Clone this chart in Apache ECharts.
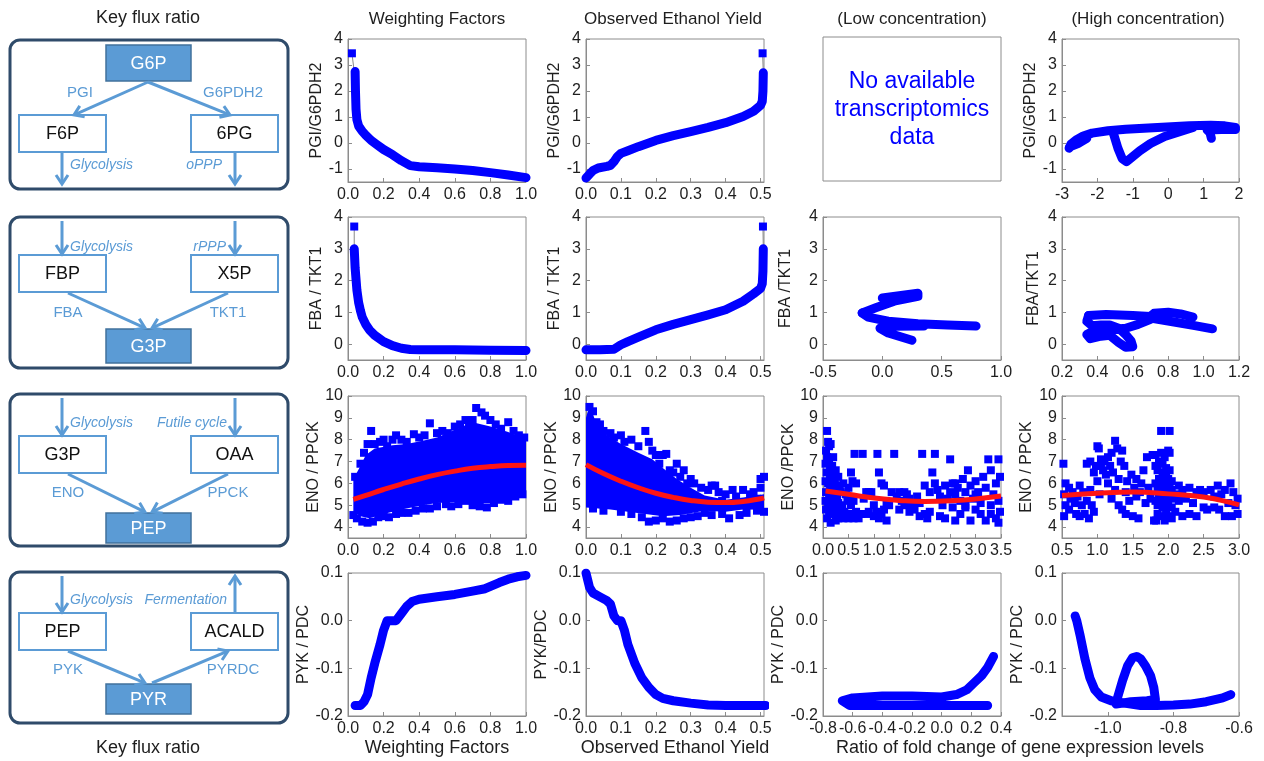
<!DOCTYPE html>
<html>
<head>
<meta charset="utf-8">
<script src="https://cdn.jsdelivr.net/npm/echarts@6/dist/echarts.min.js"></script>
<style>
html,body{margin:0;padding:0;background:#fff;}
#chart{width:1264px;height:761px;}
</style>
</head>
<body>
<div id="chart"></div>
<script>
// ---------- titles ----------
const columnTitles = ['Weighting Factors', 'Observed Ethanol Yield', '(Low concentration)', '(High concentration)'];
const sideTitle = 'Key flux ratio';
const bottomTitles = ['Weighting Factors', 'Observed Ethanol Yield', 'Ratio of fold change of gene expression levels'];
const noDataText = 'No available\ntranscriptomics\ndata';

// ---------- tick values ----------
const ticksWF = [0, 0.2, 0.4, 0.6, 0.8, 1.0];
const ticksEY = [0, 0.1, 0.2, 0.3, 0.4, 0.5];
const ticksPgiY = [-1, 0, 1, 2, 3, 4];
const ticksFbaY = [0, 1, 2, 3, 4];
const ticksEnoY = [4, 5, 6, 7, 8, 9, 10];
const ticksPykY = [-0.2, -0.1, 0, 0.1];
const ticksHcPgiX = [-3, -2, -1, 0, 1, 2];
const ticksLcFbaX = [-0.5, 0, 0.5, 1.0];
const ticksHcFbaX = [0.2, 0.4, 0.6, 0.8, 1.0, 1.2];
const ticksLcEnoX = [0, 0.5, 1.0, 1.5, 2.0, 2.5, 3.0, 3.5];
const ticksHcEnoX = [0.5, 1.0, 1.5, 2.0, 2.5, 3.0];
const ticksLcPykX = [-0.8, -0.6, -0.4, -0.2, 0, 0.2, 0.4];
const ticksHcPykX = [-1.0, -0.8, -0.6];

// ---------- PGI / G6PDH2 ----------
const wfPgiTop = [[0.022, 3.45]];
const wfPgi = [[0.04,2.75],[0.042,2.0],[0.045,1.3],[0.05,0.9],[0.06,0.65],[0.08,0.45],[0.1,0.3],[0.13,0.1],[0.16,-0.05],[0.2,-0.25],[0.25,-0.45],[0.3,-0.68],[0.35,-0.87],[0.4,-0.91],[0.5,-0.95],[0.6,-1.0],[0.7,-1.06],[0.8,-1.14],[0.9,-1.23],[1.0,-1.33]];
const eyPgiTop = [[0.506, 3.45]];
const eyPgi = [[0,-1.35],[0.01,-1.2],[0.02,-1.06],[0.035,-0.96],[0.06,-0.9],[0.07,-0.86],[0.08,-0.72],[0.09,-0.52],[0.1,-0.4],[0.12,-0.3],[0.15,-0.14],[0.2,0.1],[0.25,0.28],[0.3,0.44],[0.35,0.6],[0.4,0.78],[0.45,1.02],[0.48,1.22],[0.5,1.45],[0.505,1.6],[0.507,2.0],[0.508,2.7]];
const hcPgiUpper = [[-2.8,-0.2],[-2.75,-0.05],[-2.6,0.12],[-2.4,0.27],[-2.15,0.38],[-1.7,0.47],[-1.2,0.53],[-0.3,0.6],[0.6,0.66],[1.2,0.68],[1.6,0.66],[1.9,0.6]];
const hcPgiReturn = [[1.9,0.52],[1.5,0.52],[1.1,0.5],[1.18,0.4],[1.22,0.18]];
const hcPgiLoop = [[0.7,0.6],[0.3,0.42],[-0.1,0.25],[-0.5,-0.02],[-0.8,-0.3],[-1.05,-0.58],[-1.18,-0.72],[-1.3,-0.6],[-1.42,-0.2],[-1.55,0.38]];
const hcPgiBlob = [[-2.78,-0.15],[-2.55,-0.02],[-2.3,0.18]];

// ---------- FBA / TKT1 ----------
const wfFbaTop = [[0.035, 3.7]];
const wfFba = [[0.035,3.0],[0.04,2.4],[0.05,1.7],[0.06,1.3],[0.07,1.05],[0.08,0.85],[0.1,0.62],[0.12,0.45],[0.15,0.28],[0.2,0.08],[0.25,-0.05],[0.3,-0.13],[0.35,-0.17],[0.4,-0.18],[0.6,-0.18],[0.8,-0.19],[1.0,-0.2]];
const eyFbaTop = [[0.507, 3.7]];
const eyFba = [[0,-0.18],[0.04,-0.18],[0.08,-0.16],[0.1,-0.02],[0.12,0.08],[0.15,0.22],[0.2,0.45],[0.25,0.62],[0.3,0.77],[0.35,0.92],[0.4,1.08],[0.45,1.35],[0.48,1.58],[0.5,1.75],[0.505,1.9],[0.507,2.3],[0.508,3.0]];
const lcFbaTop = [[0.0,1.45],[0.3,1.6],[0.3,1.5],[0.1,1.35],[-0.05,1.15],[-0.17,0.98]];
const lcFbaLong = [[-0.17,0.98],[-0.12,0.85],[0.05,0.72],[0.3,0.64],[0.55,0.6],[0.79,0.57]];
const lcFbaLow = [[0.35,0.57],[0.1,0.56],[-0.02,0.5],[0.05,0.35],[0.25,0.12]];
const hcFbaLoop = [[0.35,0.9],[0.34,0.72],[0.37,0.58],[0.42,0.6],[0.47,0.6],[0.52,0.5],[0.56,0.3],[0.59,0.1],[0.6,-0.08],[0.56,-0.1],[0.52,0.05],[0.47,0.28],[0.42,0.25],[0.36,0.17],[0.34,0.3],[0.38,0.42],[0.47,0.45],[0.56,0.5],[0.63,0.62],[0.7,0.78]];
const hcFbaTop = [[0.35,0.9],[0.45,0.93],[0.6,0.9],[0.7,0.87],[0.72,0.97],[0.8,1.0],[0.87,0.95],[0.94,0.85]];
const hcFbaTail = [[0.7,0.82],[0.85,0.68],[0.95,0.58],[1.05,0.48]];

// ---------- ENO / PPCK ----------
const wfEnoCore = [[0.03,4.7],[0.07,4.5],[0.12,4.4],[0.2,4.6],[0.3,4.8],[0.42,5.0],[0.5,5.1],[0.61,5.15],[0.7,5.1],[0.8,5.1],[0.9,5.3],[1.0,5.6],
  [1.0,8.0],[0.9,8.35],[0.8,8.6],[0.7,8.8],[0.6,8.45],[0.5,8.1],[0.42,7.95],[0.33,7.8],[0.25,7.75],[0.15,7.6],[0.1,7.3],[0.07,6.8],[0.03,6.2]];
const wfEnoPts = [[0.04,6.3],[0.07,6.9],[0.09,7.4],[0.11,7.8],[0.13,8.4],[0.15,7.8],[0.18,7.9],[0.2,8.0],[0.22,7.7],[0.25,8.0],[0.27,8.2],[0.3,8.0],[0.33,7.9],[0.37,8.25],[0.4,8.1],[0.43,8.2],[0.46,8.75],[0.5,8.3],[0.53,8.4],[0.56,8.3],[0.6,8.6],[0.63,8.7],[0.66,8.9],[0.68,8.8],[0.7,8.9],[0.72,9.45],[0.75,9.25],[0.77,9.1],[0.8,8.9],[0.83,8.7],[0.86,8.5],[0.9,8.8],[0.93,8.4],[0.96,8.2],[0.99,8.1],
  [0.03,4.55],[0.05,4.4],[0.08,4.25],[0.11,4.2],[0.14,4.25],[0.17,4.45],[0.2,4.5],[0.23,4.45],[0.27,4.6],[0.3,4.65],[0.34,4.65],[0.38,4.75],[0.42,4.85],[0.46,4.85],[0.5,4.95],[0.55,5.05],[0.58,4.95],[0.62,5.05],[0.66,5.2],[0.7,5.0],[0.74,4.95],[0.78,4.9],[0.82,5.1],[0.86,5.25],[0.9,5.2],[0.94,5.4],[0.98,5.5]];
const wfEnoFit = [[0.03,5.27],[0.1,5.45],[0.2,5.72],[0.3,5.97],[0.4,6.2],[0.5,6.4],[0.6,6.56],[0.7,6.69],[0.8,6.77],[0.9,6.82],[1.0,6.83]];

const eyEnoCore = [[0,4.9],[0.07,4.8],[0.17,4.6],[0.22,4.5],[0.27,4.55],[0.34,4.75],[0.4,4.7],[0.45,4.8],[0.51,4.8],
  [0.51,5.5],[0.45,5.35],[0.4,5.25],[0.34,5.45],[0.3,5.8],[0.26,6.2],[0.22,6.7],[0.19,7.1],[0.15,7.4],[0.1,7.8],[0.06,8.2],[0.03,8.7],[0.015,9.4],[0.005,9.3],[0,9.0]];
const eyEnoPts = [[0.01,9.5],[0.02,9.3],[0.03,8.8],[0.04,8.7],[0.05,8.4],[0.07,8.3],[0.08,8.1],[0.1,8.2],[0.11,7.9],[0.13,8.0],[0.15,7.7],[0.17,8.4],[0.18,7.9],[0.19,7.5],[0.2,7.3],[0.22,7.3],[0.23,7.35],[0.21,6.9],[0.24,6.6],[0.26,6.9],[0.25,6.5],[0.27,6.3],[0.28,6.6],[0.29,6.0],[0.3,6.2],[0.31,6.0],[0.33,5.8],[0.35,5.7],[0.37,5.9],[0.38,5.6],[0.4,5.5],[0.42,5.7],[0.43,5.4],[0.45,5.7],[0.47,5.5],[0.48,5.6],[0.5,6.2],[0.51,6.3],[0.5,5.8],
  [0.51,4.7],[0.49,4.75],[0.46,4.65],[0.44,4.55],[0.41,4.4],[0.39,4.6],[0.36,4.55],[0.34,4.65],[0.32,4.5],[0.3,4.45],[0.28,4.4],[0.26,4.3],[0.24,4.25],[0.22,4.4],[0.2,4.3],[0.18,4.25],[0.16,4.45],[0.13,4.6],[0.1,4.7],[0.05,4.75],[0.02,4.85],
  [0.33,5.2],[0.36,5.9],[0.39,5.2],[0.44,5.1],[0.47,5.0],[0.49,5.3],[0.27,5.6],[0.29,5.3]];
const eyEnoFit = [[0,6.86],[0.05,6.45],[0.1,6.1],[0.15,5.8],[0.2,5.55],[0.25,5.36],[0.3,5.22],[0.35,5.14],[0.4,5.12],[0.45,5.17],[0.5,5.3],[0.51,5.34]];

const lcEnoCore = [[0.06,4.5],[0.3,4.5],[0.36,5.2],[0.3,6.3],[0.2,6.9],[0.1,7.3],[0.06,7.0]];
const lcEnoPts = [[0.08,8.4],[0.1,7.9],[0.12,7.7],[0.06,7.5],[0.15,7.8],[0.08,7.2],[0.2,7.2],[0.05,6.9],[0.12,7.0],[0.18,6.8],[0.25,6.6],[0.07,6.5],[0.15,6.4],[0.22,6.2],[0.3,6.3],[0.05,6.1],[0.1,6.0],[0.17,5.9],[0.25,5.8],[0.33,5.9],[0.4,6.0],[0.06,5.6],[0.12,5.5],[0.2,5.4],[0.28,5.5],[0.35,5.6],[0.45,5.5],[0.05,5.2],[0.1,5.1],[0.15,5.0],[0.22,5.0],[0.3,5.1],[0.38,5.0],[0.48,5.2],[0.06,4.8],[0.12,4.7],[0.2,4.6],[0.28,4.7],[0.35,4.5],[0.44,4.6],[0.08,4.4],[0.15,4.2],[0.25,4.3],[0.5,4.4],[0.55,4.6],[0.6,4.4],[0.65,4.7],[0.55,5.0],[0.6,5.2],[0.5,5.8],[0.58,6.1],[0.65,6.0],[0.55,6.5],[0.62,7.35],[0.78,7.35],
  [0.8,5.3],[0.85,5.6],[0.9,5.6],[0.95,5.6],[1.0,5.0],[1.05,4.7],[1.0,4.5],[1.1,4.4],[1.15,4.6],[1.07,7.35],[1.1,6.5],[1.15,6.0],[1.2,5.9],[1.25,5.1],[1.3,5.0],[1.2,4.8],[1.35,5.6],[1.4,7.35],[1.45,5.4],[1.5,5.6],[1.55,5.2],[1.6,5.0],[1.65,5.5],[1.7,5.3],[1.75,5.0],[1.8,4.8],[1.85,5.4],[1.9,5.1],[1.95,7.35],[2.0,4.6],[2.05,4.4],[2.1,4.7],[2.15,6.5],[2.2,7.35],[2.2,6.0],[2.25,5.7],[2.3,5.4],[2.3,4.5],[2.35,5.0],[2.4,4.4],[2.4,5.9],[2.45,5.3],[2.5,7.1],[2.5,5.6],[2.55,4.9],[2.55,6.0],[2.6,5.5],[2.6,4.3],[2.65,5.8],[2.7,4.6],[2.7,5.2],[2.75,6.2],[2.8,5.6],[2.8,4.9],[2.85,6.6],[2.9,5.9],[2.9,4.3],[2.95,5.3],[3.0,6.1],[3.0,4.8],[3.05,5.6],[3.1,4.6],[3.1,5.1],[3.15,6.3],[3.2,5.8],[3.2,4.3],[3.25,7.1],[3.3,5.0],[3.3,6.6],[3.35,5.5],[3.4,4.4],[3.4,6.0],[3.45,7.1],[3.45,5.2],[3.45,4.2],[3.48,6.3],[3.48,4.7],
  [1.5,4.8],[1.7,4.7],[1.6,5.6],[2.1,5.6],[2.0,5.9],[1.9,4.5],[2.6,6.0],[3.0,5.5],[2.8,5.0],[3.3,4.6],[0.4,4.4],[0.42,4.7],[0.3,4.4],[0.7,4.4],[0.75,4.6],[1.25,4.3],[0.9,4.7],[0.85,4.6]];
const lcEnoFit = [[0.05,5.65],[0.5,5.5],[1.0,5.33],[1.5,5.22],[2.0,5.17],[2.5,5.2],[3.0,5.29],[3.5,5.42]];

const hcEnoPts = [[0.52,6.9],[0.55,6.0],[0.53,5.5],[0.55,5.0],[0.53,4.5],[0.6,5.8],[0.62,5.3],[0.6,4.8],[0.65,5.6],[0.68,5.1],[0.7,4.6],[0.72,5.4],[0.75,5.9],[0.75,4.5],[0.78,5.0],[0.8,5.6],[0.82,4.6],[0.85,5.2],[0.85,6.9],[0.88,4.4],[0.9,5.7],[0.9,7.0],[0.92,5.0],[0.95,6.5],[0.95,4.7],[0.98,6.8],[1.0,7.7],[1.0,6.1],[1.02,7.6],[1.03,5.5],[1.05,6.8],[1.05,7.1],[1.08,6.6],[1.1,7.0],[1.12,6.4],[1.15,7.2],[1.15,6.0],[1.18,6.8],[1.2,7.4],[1.2,5.3],[1.22,6.5],[1.25,7.95],[1.25,5.7],[1.28,7.6],[1.3,6.2],[1.3,5.0],[1.33,7.0],[1.35,7.5],[1.35,4.8],[1.38,6.8],[1.4,5.6],[1.4,4.6],[1.42,6.1],[1.45,5.2],[1.48,6.4],[1.5,4.5],[1.52,5.8],[1.55,5.4],[1.55,6.2],[1.58,4.4],[1.6,5.6],[1.62,6.0],[1.65,6.6],[1.68,5.1],[1.7,7.2],[1.72,5.8],[1.75,5.3],[1.78,7.3],[1.8,4.3],
  [1.83,4.3],[1.85,4.6],[1.85,5.0],[1.87,5.4],[1.85,5.8],[1.87,6.2],[1.85,6.6],[1.87,7.0],[1.9,7.4],[1.9,8.4],[1.9,4.5],[1.92,4.9],[1.9,5.3],[1.92,5.7],[1.9,6.1],[1.92,6.5],[1.92,6.9],[1.95,7.2],[1.95,4.3],[1.97,4.7],[1.95,5.1],[1.97,5.5],[1.95,5.9],[1.97,6.3],[1.97,6.7],[2.0,7.5],[2.0,4.5],[2.0,5.0],[2.0,5.4],[2.02,5.8],[2.0,6.2],[2.02,6.6],[2.02,8.4],[2.02,7.4],[2.05,4.4],[2.05,4.9],[2.05,5.3],[2.05,5.7],[2.05,6.1],[1.82,5.2],[1.82,6.0],[1.82,6.8],[1.82,7.3],
  [2.1,5.5],[2.1,4.7],[2.15,5.9],[2.15,5.2],[2.2,4.5],[2.2,5.7],[2.25,5.3],[2.3,4.6],[2.3,5.8],[2.35,5.1],[2.4,5.6],[2.4,4.5],[2.45,5.7],[2.5,4.9],[2.5,5.6],[2.55,4.8],[2.6,5.7],[2.65,4.9],[2.65,5.4],[2.7,5.9],[2.72,4.8],[2.75,5.5],[2.8,4.5],[2.8,5.7],[2.85,5.1],[2.88,6.0],[2.9,4.5],[2.92,5.6],[2.95,5.0],[2.98,5.3],[2.98,4.6]];
const hcEnoFit = [[0.5,5.45],[1.0,5.55],[1.5,5.6],[2.0,5.52],[2.5,5.38],[2.75,5.22],[3.0,5.02]];

// ---------- PYK / PDC ----------
const wfPyk = [[0.04,-0.178],[0.07,-0.178],[0.09,-0.17],[0.11,-0.155],[0.13,-0.12],[0.15,-0.09],[0.18,-0.05],[0.2,-0.02],[0.22,0.0],[0.27,0.0],[0.3,0.015],[0.33,0.03],[0.36,0.04],[0.4,0.045],[0.5,0.05],[0.6,0.055],[0.7,0.062],[0.77,0.067],[0.8,0.072],[0.85,0.08],[0.9,0.087],[0.95,0.092],[1.0,0.095]];
const eyPyk = [[0.0,0.1],[0.005,0.085],[0.01,0.07],[0.02,0.058],[0.04,0.05],[0.06,0.042],[0.07,0.035],[0.08,0.01],[0.09,0.0],[0.1,0.0],[0.11,-0.02],[0.12,-0.05],[0.14,-0.09],[0.16,-0.12],[0.18,-0.14],[0.2,-0.155],[0.22,-0.163],[0.25,-0.168],[0.3,-0.173],[0.35,-0.177],[0.4,-0.178],[0.5,-0.178],[0.515,-0.178]];
const lcPyk = [[0.31,-0.178],[0.0,-0.178],[-0.4,-0.178],[-0.62,-0.178],[-0.67,-0.168],[-0.6,-0.162],[-0.4,-0.158],[-0.2,-0.158],[0.0,-0.16],[0.1,-0.155],[0.17,-0.145],[0.22,-0.13],[0.27,-0.115],[0.31,-0.098],[0.35,-0.075]];
const hcPykMain = [[-1.1,0.01],[-1.095,0.0],[-1.085,-0.03],[-1.07,-0.08],[-1.055,-0.12],[-1.04,-0.145],[-1.02,-0.16],[-0.99,-0.168],[-0.95,-0.173],[-0.9,-0.178],[-0.85,-0.178],[-0.8,-0.177],[-0.75,-0.175],[-0.7,-0.17],[-0.65,-0.162],[-0.625,-0.155]];
const hcPykLoop = [[-0.975,-0.175],[-0.97,-0.16],[-0.955,-0.125],[-0.94,-0.095],[-0.925,-0.078],[-0.912,-0.075],[-0.9,-0.08],[-0.885,-0.095],[-0.87,-0.115],[-0.86,-0.14],[-0.855,-0.165],[-0.88,-0.168],[-0.93,-0.17],[-0.975,-0.175]];

// ---------- styling ----------
const BLUE = '#0000ff';
const RED = '#ff1414';
const FRAME = '#8c8c8c';
const INK = '#1e1e1e';
const FONT = '"Liberation Sans", Arial, sans-serif';
const LB = '#5b9bd5';
const DARK = '#2f4b6a';

const cols = [{left: 348, width: 178}, {left: 586, width: 178}, {left: 823, width: 178}, {left: 1062, width: 177}];
const rows = [{top: 39, height: 143}, {top: 217, height: 143}, {top: 396, height: 142}, {top: 573, height: 143}];

// series builders
const band = d => ({kind: 'band', data: d});
const thin = d => ({kind: 'thin', data: d});
const dots = (d, s) => ({kind: 'dots', data: d, size: s || 8});
const core = d => ({kind: 'core', data: d});
const fit = d => ({kind: 'fit', data: d});

const panels = [
  {r: 0, c: 0, x: [0, 1], xt: ticksWF, xd: 1, y: [-1.5, 4], yt: ticksPgiY, yd: 0, yn: 'PGI/G6PDH2', gap: 23,
    s: [thin([wfPgiTop[0], [wfPgi[0][0] - 0.005, wfPgi[0][1]]]), band(wfPgi), dots(wfPgiTop)]},
  {r: 0, c: 1, x: [0, 0.51], xt: ticksEY, xd: 1, y: [-1.5, 4], yt: ticksPgiY, yd: 0, yn: 'PGI/G6PDH2', gap: 23,
    s: [thin([eyPgiTop[0], eyPgi[eyPgi.length - 1]]), band(eyPgi), dots(eyPgiTop)]},
  {r: 0, c: 3, x: [-3, 2], xt: ticksHcPgiX, xd: 0, y: [-1.5, 4], yt: ticksPgiY, yd: 0, yn: 'PGI/G6PDH2', gap: 23,
    s: [band(hcPgiUpper), band(hcPgiReturn), band(hcPgiLoop), band(hcPgiBlob)]},

  {r: 1, c: 0, x: [0, 1], xt: ticksWF, xd: 1, y: [-0.5, 4], yt: ticksFbaY, yd: 0, yn: 'FBA / TKT1', gap: 23,
    s: [thin([wfFbaTop[0], wfFba[0]]), band(wfFba), dots(wfFbaTop)]},
  {r: 1, c: 1, x: [0, 0.51], xt: ticksEY, xd: 1, y: [-0.5, 4], yt: ticksFbaY, yd: 0, yn: 'FBA / TKT1', gap: 23,
    s: [thin([eyFbaTop[0], eyFba[eyFba.length - 1]]), band(eyFba), dots(eyFbaTop)]},
  {r: 1, c: 2, x: [-0.5, 1.0], xt: ticksLcFbaX, xd: 1, y: [-0.5, 4], yt: ticksFbaY, yd: 0, yn: 'FBA /TKT1', gap: 29,
    s: [band(lcFbaTop), band(lcFbaLong), band(lcFbaLow)]},
  {r: 1, c: 3, x: [0.2, 1.2], xt: ticksHcFbaX, xd: 1, y: [-0.5, 4], yt: ticksFbaY, yd: 0, yn: 'FBA/TKT1', gap: 20,
    s: [band(hcFbaLoop), band(hcFbaTop), band(hcFbaTail)]},

  {r: 2, c: 0, x: [0, 1], xt: ticksWF, xd: 1, y: [3.5, 10], yt: ticksEnoY, yd: 0, yn: 'ENO / PPCK', gap: 24,
    s: [core(wfEnoCore), dots(wfEnoPts), fit(wfEnoFit)]},
  {r: 2, c: 1, x: [0, 0.51], xt: ticksEY, xd: 1, y: [3.5, 10], yt: ticksEnoY, yd: 0, yn: 'ENO / PPCK', gap: 24,
    s: [core(eyEnoCore), dots(eyEnoPts), fit(eyEnoFit)]},
  {r: 2, c: 2, x: [0, 3.5], xt: ticksLcEnoX, xd: 1, y: [3.5, 10], yt: ticksEnoY, yd: 0, yn: 'ENO /PPCK', gap: 21,
    s: [core(lcEnoCore), dots(lcEnoPts, 8), fit(lcEnoFit)]},
  {r: 2, c: 3, x: [0.5, 3.0], xt: ticksHcEnoX, xd: 1, y: [3.5, 10], yt: ticksEnoY, yd: 0, yn: 'ENO / PPCK', gap: 27,
    s: [dots(hcEnoPts, 8), fit(hcEnoFit)]},

  {r: 3, c: 0, x: [0, 1], xt: ticksWF, xd: 1, y: [-0.2, 0.1], yt: ticksPykY, yd: 1, yn: 'PYK / PDC', gap: 27, xn: bottomTitles[0],
    s: [band(wfPyk)]},
  {r: 3, c: 1, x: [0, 0.51], xt: ticksEY, xd: 1, y: [-0.2, 0.1], yt: ticksPykY, yd: 1, yn: 'PYK/PDC', gap: 25, xn: bottomTitles[1],
    s: [band(eyPyk)]},
  {r: 3, c: 2, x: [-0.8, 0.4], xt: ticksLcPykX, xd: 1, y: [-0.2, 0.1], yt: ticksPykY, yd: 1, yn: 'PYK / PDC', gap: 29,
    s: [band(lcPyk)]},
  {r: 3, c: 3, x: [-1.14, -0.6], xt: ticksHcPykX, xd: 1, y: [-0.2, 0.1], yt: ticksPykY, yd: 1, yn: 'PYK / PDC', gap: 29,
    s: [band(hcPykMain), band(hcPykLoop)]}
];

function buildSeries(spec, i) {
  const common = {xAxisIndex: i, yAxisIndex: i, silent: true, animation: false};
  if (spec.kind === 'band') {
    return Object.assign({type: 'line', data: spec.data, showSymbol: false, clip: true, z: 3,
      lineStyle: {width: 9, color: BLUE, cap: 'round', join: 'round'}}, common);
  }
  if (spec.kind === 'thin') {
    return Object.assign({type: 'line', data: spec.data, showSymbol: false, z: 2,
      lineStyle: {width: 1, color: '#888'}}, common);
  }
  if (spec.kind === 'fit') {
    return Object.assign({type: 'line', data: spec.data, showSymbol: false, smooth: true, z: 6,
      lineStyle: {width: 5, color: RED}}, common);
  }
  if (spec.kind === 'dots') {
    return Object.assign({type: 'scatter', data: spec.data, symbol: 'rect', symbolSize: spec.size, z: 4,
      itemStyle: {color: BLUE, opacity: 1}}, common);
  }
  // filled region of overlapping points
  const poly = spec.data;
  return Object.assign({type: 'custom', data: poly, z: 3, clip: true,
    renderItem: function (params, api) {
      if (params.dataIndex !== 0) return null;
      return {type: 'polygon', shape: {points: poly.map(p => api.coord(p))}, style: {fill: BLUE}};
    }}, common);
}

const grids = [], xAxes = [], yAxes = [], series = [];
panels.forEach((p, i) => {
  grids.push({left: cols[p.c].left, top: rows[p.r].top, width: cols[p.c].width, height: rows[p.r].height,
    show: true, borderColor: FRAME, borderWidth: 1, containLabel: false});
  xAxes.push({type: 'value', gridIndex: i, min: p.x[0], max: p.x[1],
    axisLine: {show: true, onZero: false, lineStyle: {color: FRAME}},
    axisTick: {show: true, inside: true, length: 4, customValues: p.xt, lineStyle: {color: FRAME}},
    axisLabel: {customValues: p.xt, formatter: v => Number(v).toFixed(p.xd), fontSize: 16, color: INK, fontFamily: FONT, margin: 5},
    splitLine: {show: false},
    name: p.xn || '', nameLocation: 'middle', nameGap: 23,
    nameTextStyle: {fontSize: 18, color: INK, fontFamily: FONT}});
  yAxes.push({type: 'value', gridIndex: i, min: p.y[0], max: p.y[1],
    axisLine: {show: true, onZero: false, lineStyle: {color: FRAME}},
    axisTick: {show: true, inside: true, length: 4, customValues: p.yt, lineStyle: {color: FRAME}},
    axisLabel: {customValues: p.yt, formatter: v => Number(v).toFixed(p.yd), fontSize: 16, color: INK, fontFamily: FONT, margin: 5},
    splitLine: {show: false},
    name: p.yn, nameLocation: 'middle', nameGap: p.gap, nameRotate: 90,
    nameTextStyle: {fontSize: 16, color: INK, fontFamily: FONT}});
  p.s.forEach(spec => series.push(buildSeries(spec, i)));
});

// ---------- pathway sketches ----------
const g = [];
function text(x, y, t, size, color, opts) {
  opts = opts || {};
  g.push({type: 'text', x: x, y: y, z: 10, silent: true,
    style: {text: t, fill: color, font: (opts.italic ? 'italic ' : '') + size + 'px ' + FONT,
      align: opts.align || 'center', verticalAlign: 'middle', lineHeight: opts.lh || size * 1.2}});
}
function rect(x, y, w, h, fill, stroke, lw, r) {
  g.push({type: 'rect', z: 5, silent: true, shape: {x: x, y: y, width: w, height: h, r: r || 0},
    style: {fill: fill, stroke: stroke, lineWidth: lw}});
}
function arrow(x1, y1, x2, y2) {
  const a = Math.atan2(y2 - y1, x2 - x1), L = 9, W = 6;
  const bx = x2 - L * Math.cos(a), by = y2 - L * Math.sin(a);
  const nx = -Math.sin(a), ny = Math.cos(a);
  g.push({type: 'line', z: 6, silent: true, shape: {x1: x1, y1: y1, x2: x2 - 1.5 * Math.cos(a), y2: y2 - 1.5 * Math.sin(a)},
    style: {stroke: LB, lineWidth: 3}});
  g.push({type: 'polyline', z: 6, silent: true,
    shape: {points: [[bx + nx * W, by + ny * W], [x2, y2], [bx - nx * W, by - ny * W]]},
    style: {stroke: LB, lineWidth: 3, fill: null, lineJoin: 'miter'}});
}
function metab(x, y, w, h, label, filled) {
  if (filled) {
    rect(x, y, w, h, LB, '#41719c', 1.5);
    text(x + w / 2, y + h / 2 + 1, label, 18, '#ffffff');
  } else {
    rect(x, y, w, h, '#ffffff', LB, 2);
    text(x + w / 2, y + h / 2 + 1, label, 18, '#111');
  }
}

text(148, 18, sideTitle, 18, INK);
text(148, 748, sideTitle, 18, INK);

// panel 1: G6P branch point
rect(10, 40, 278, 149, '#ffffff', DARK, 3, 10);
metab(106, 45, 85, 36, 'G6P', true);
metab(19, 115, 87, 37, 'F6P', false);
metab(191, 115, 87, 37, '6PG', false);
arrow(148, 82, 74, 115);
arrow(148, 82, 230, 115);
arrow(62, 153, 62, 184);
arrow(235, 153, 235, 184);
text(80, 93, 'PGI', 15, LB);
text(233, 93, 'G6PDH2', 15, LB);
text(70, 165, 'Glycolysis', 14, LB, {italic: true, align: 'left'});
text(222, 165, 'oPPP', 14, LB, {italic: true, align: 'right'});

// panel 2: G3P formation
rect(10, 217, 278, 151, '#ffffff', DARK, 3, 10);
arrow(62, 221, 62, 254);
arrow(235, 221, 235, 254);
metab(19, 255, 87, 37, 'FBP', false);
metab(191, 255, 87, 37, 'X5P', false);
metab(106, 329, 85, 34, 'G3P', true);
arrow(68, 293, 145, 328);
arrow(228, 293, 152, 328);
text(70, 247, 'Glycolysis', 14, LB, {italic: true, align: 'left'});
text(226, 247, 'rPPP', 14, LB, {italic: true, align: 'right'});
text(68, 313, 'FBA', 15, LB);
text(228, 313, 'TKT1', 15, LB);

// panel 3: PEP formation
rect(10, 394, 278, 152, '#ffffff', DARK, 3, 10);
arrow(62, 398, 62, 435);
arrow(235, 398, 235, 435);
metab(19, 436, 87, 37, 'G3P', false);
metab(191, 436, 87, 37, 'OAA', false);
metab(106, 513, 85, 30, 'PEP', true);
arrow(68, 474, 145, 512);
arrow(228, 474, 152, 512);
text(70, 423, 'Glycolysis', 14, LB, {italic: true, align: 'left'});
text(227, 423, 'Futile cycle', 14, LB, {italic: true, align: 'right'});
text(68, 493, 'ENO', 15, LB);
text(228, 493, 'PPCK', 15, LB);

// panel 4: PYR branch point
rect(10, 572, 278, 151, '#ffffff', DARK, 3, 10);
arrow(62, 576, 62, 612);
arrow(235, 612, 235, 576);
metab(19, 613, 87, 37, 'PEP', false);
metab(191, 613, 87, 37, 'ACALD', false);
metab(106, 684, 85, 30, 'PYR', true);
arrow(68, 651, 145, 683);
arrow(152, 683, 228, 651);
text(70, 600, 'Glycolysis', 14, LB, {italic: true, align: 'left'});
text(227, 600, 'Fermentation', 14, LB, {italic: true, align: 'right'});
text(68, 670, 'PYK', 15, LB);
text(233, 670, 'PYRDC', 15, LB);

// column headings
const headX = [437, 673, 912, 1148];
columnTitles.forEach((t, i) => text(headX[i], 19, t, 17, INK));
text(1020, 748, bottomTitles[2], 18, INK);

// empty panel (low concentration, PGI/G6PDH2)
rect(823, 37, 178, 144, 'none', FRAME, 1);
text(912, 110, noDataText, 23, BLUE, {lh: 28});

const chart = echarts.init(document.getElementById('chart'), null, {renderer: 'canvas'});
chart.setOption({
  animation: false,
  backgroundColor: '#ffffff',
  textStyle: {fontFamily: FONT},
  grid: grids,
  xAxis: xAxes,
  yAxis: yAxes,
  series: series,
  graphic: {elements: g}
});
</script>
</body>
</html>
